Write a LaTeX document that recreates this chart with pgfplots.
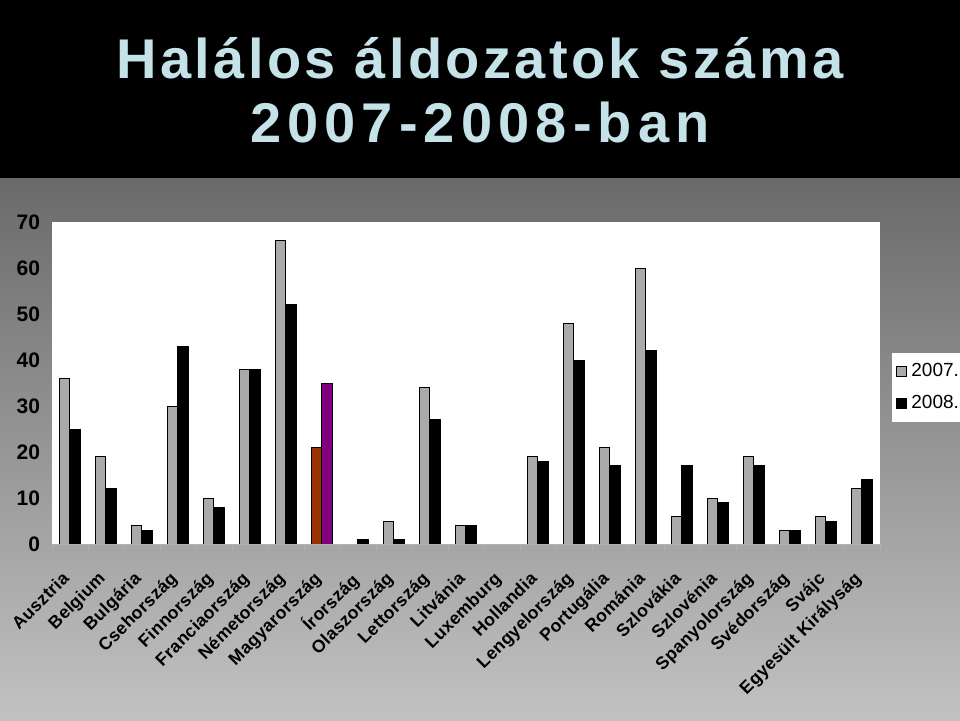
\documentclass[border=0pt]{standalone}
\usepackage{fontspec}
\setmainfont{Liberation Sans}
\newfontfamily\titlefont[LetterSpace=6]{Liberation Sans}
\newfontfamily\titlefontb[LetterSpace=11]{Liberation Sans}
\newfontfamily\labelfont[LetterSpace=2]{Liberation Sans}
\usepackage{pgfplots}
\pgfplotsset{compat=1.18}
\definecolor{titleblue}{RGB}{196,226,232}
\definecolor{bgtop}{RGB}{106,106,106}
\definecolor{bgbot}{RGB}{194,194,194}
\definecolor{bar07}{RGB}{170,170,170}
\definecolor{hu07}{RGB}{153,51,0}
\definecolor{hu08}{RGB}{128,0,128}
\begin{document}
\begin{tikzpicture}
\fill[black] (0pt,271pt) rectangle (480pt,360pt);
\shade[top color=bgtop, bottom color=bgbot] (0pt,0pt) rectangle (480pt,271pt);
\node[anchor=base, text=titleblue, font=\titlefont\bfseries\fontsize{28}{30}\selectfont, inner sep=0pt] at (240pt,321pt) {Halálos áldozatok száma};
\node[anchor=base, text=titleblue, font=\titlefontb\bfseries\fontsize{28}{30}\selectfont, inner sep=0pt] at (240pt,289pt) {2007-2008-ban};
\begin{axis}[
  at={(26pt,88pt)}, anchor=south west,
  width=414pt, height=161pt, scale only axis,
  xmin=-0.5, xmax=22.5, ymin=0, ymax=70,
  axis background/.style={fill=white},
  axis line style={draw=none},
  xtick pos=bottom, ytick pos=left,
  ytick={0,10,...,70},
  xtick={0,...,22},
  xticklabels={Ausztria,Belgium,Bulgária,Csehország,Finnország,Franciaország,Németország,Magyarország,Írország,Olaszország,Lettország,Litvánia,Luxemburg,Hollandia,Lengyelország,Portugália,Románia,Szlovákia,Szlovénia,Spanyolország,Svédország,Svájc,Egyesült Királyság},
  minor xtick={-0.5,0.5,...,22.5},
  major tick length=0pt, minor tick length=3pt,
  tick align=outside,
  minor tick style={gray!60},
  /pgf/number format/assume math mode=true,
  yticklabel style={font=\bfseries\fontsize{10.5}{12}\selectfont, xshift=-2.5pt},
  xticklabel shift=13pt,
  xticklabel style={rotate=45, xshift=-3.2pt, yshift=3.2pt, anchor=north east, inner sep=0pt, font=\labelfont\bfseries\fontsize{8.8}{10}\selectfont},
  legend style={at={(1.0145,0.593)}, anchor=north west, draw=none, fill=white,
    font=\fontsize{9.5}{11}\selectfont, inner xsep=2pt, inner ysep=3pt, row sep=4pt},
  legend image code/.code={\draw[#1, draw=black] (0pt,-2.5pt) rectangle (5pt,2.5pt);},
]
\addplot[ybar, bar width=5.25pt, bar shift=-2.625pt, fill=bar07, draw=black, line width=0.5pt] coordinates {
(0,36) (1,19) (2,4) (3,30) (4,10) (5,38) (6,66) (7,21) (8,0) (9,5) (10,34) (11,4)
(12,0) (13,19) (14,48) (15,21) (16,60) (17,6) (18,10) (19,19) (20,3) (21,6) (22,12)};
\addlegendentry{2007.}
\addplot[ybar, bar width=5.25pt, bar shift=2.625pt, fill=black, draw=black, line width=0.5pt] coordinates {
(0,25) (1,12) (2,3) (3,43) (4,8) (5,38) (6,52) (7,35) (8,1) (9,1) (10,27) (11,4)
(12,0) (13,18) (14,40) (15,17) (16,42) (17,17) (18,9) (19,17) (20,3) (21,5) (22,14)};
\addlegendentry{2008.}
\addplot[ybar, bar width=5.25pt, bar shift=-2.625pt, fill=hu07, draw=black, line width=0.5pt, forget plot] coordinates {(7,21)};
\addplot[ybar, bar width=5.25pt, bar shift=2.625pt, fill=hu08, draw=black, line width=0.5pt, forget plot] coordinates {(7,35)};
\draw[gray!60] (axis cs:-0.5,0) -- (axis cs:22.5,0);
\end{axis}
\pgfresetboundingbox
\path[use as bounding box] (0pt,0pt) rectangle (480pt,360pt);
\end{tikzpicture}
\end{document}
